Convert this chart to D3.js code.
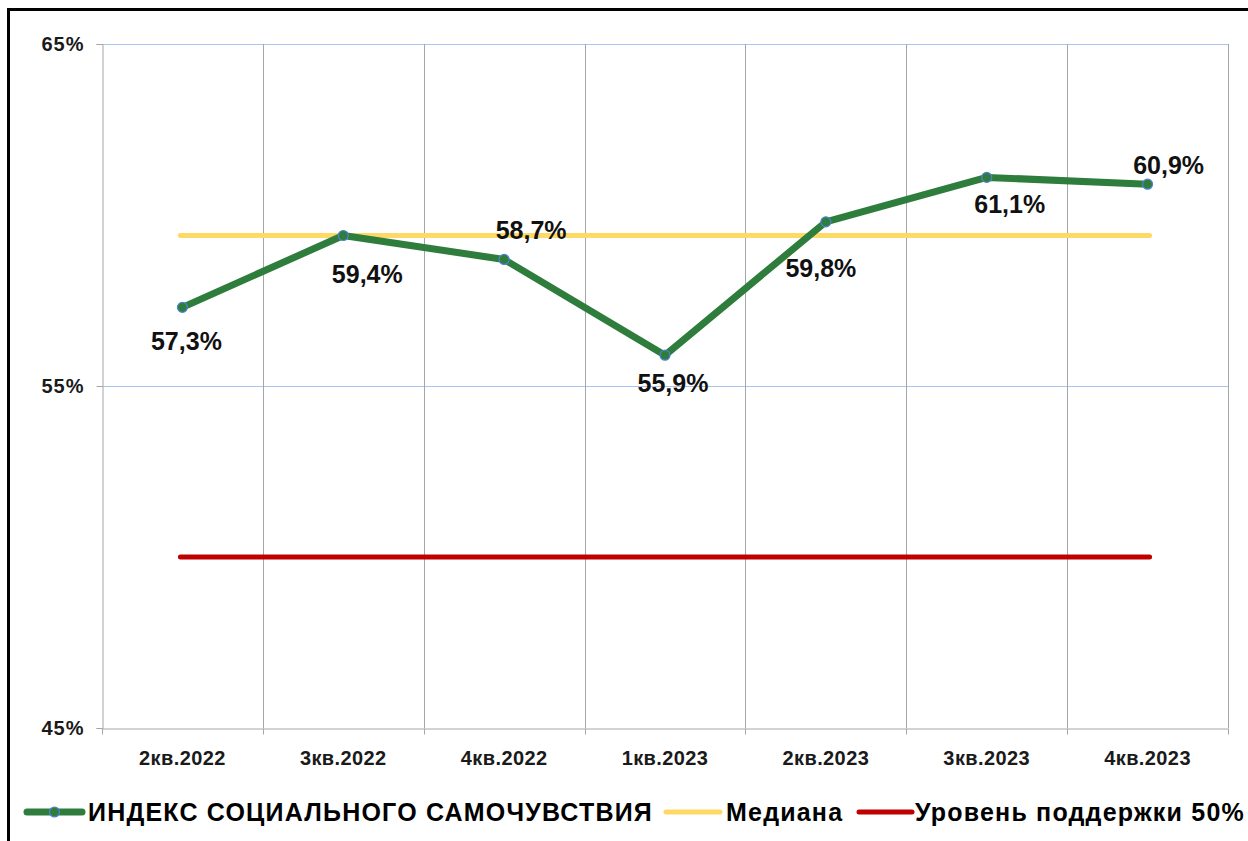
<!DOCTYPE html>
<html>
<head>
<meta charset="utf-8">
<script src="https://cdn.jsdelivr.net/npm/d3@7"></script>
<style>
  html, body { margin: 0; padding: 0; background: #fff; }
  svg { display: block; }
  text { font-family: "Liberation Sans", Arial, sans-serif; font-weight: bold; }
</style>
</head>
<body>
<svg id="chart" width="1248" height="841"></svg>
<script>
// ---- Data ----
const categories = ["2кв.2022", "3кв.2022", "4кв.2022", "1кв.2023", "2кв.2023", "3кв.2023", "4кв.2023"];
const indexValues = [57.3, 59.4, 58.7, 55.9, 59.8, 61.1, 60.9];
const medianValue = 59.4;
const supportLevel = 50;
const yTicks = [45, 55, 65];
const seriesNames = ["ИНДЕКС СОЦИАЛЬНОГО САМОЧУВСТВИЯ", "Медиана", "Уровень поддержки 50%"];

// ---- Layout / style ----
const W = 1248, H = 841;
const plot = { left: 102, right: 1228, top: 44, bottom: 728 };
const colors = { index: "#2e7d3c", median: "#ffd966", support: "#c00000", marker: "#4f81d6" };
// manual label offsets (dx, dy of baseline relative to point)
const labelOffsets = [[4, 43], [24, 47], [27, -20], [8, 37], [-5, 55], [23, 36], [21, -10]];

const svg = d3.select("#chart");

// outer frame
svg.append("rect").attr("x", 8.5).attr("y", 9.5).attr("width", 1260).attr("height", 860)
  .attr("fill", "none").attr("stroke", "#000").attr("stroke-width", 3);

const x = d3.scaleBand().domain(categories).range([plot.left, plot.right]);
const y = d3.scaleLinear().domain([45, 65]).range([plot.bottom, plot.top]);
const cx = c => x(c) + x.bandwidth() / 2;

// horizontal gridlines
svg.append("g").selectAll("line").data(yTicks.filter(t => t > 45)).join("line")
  .attr("x1", plot.left).attr("x2", plot.right)
  .attr("y1", d => Math.round(y(d)) + 0.5).attr("y2", d => Math.round(y(d)) + 0.5)
  .attr("stroke", "#a9c4f0").attr("stroke-width", 1);

// vertical gridlines at category boundaries
const bounds = categories.map(c => x(c)).concat([plot.right]);
svg.append("g").selectAll("line").data(bounds.slice(1)).join("line")
  .attr("x1", d => Math.round(d) + 0.5).attr("x2", d => Math.round(d) + 0.5)
  .attr("y1", plot.top).attr("y2", plot.bottom)
  .attr("stroke", "#a6a6a6").attr("stroke-width", 1);

// y axis
const yAxis = d3.axisLeft(y).tickValues(yTicks).tickSize(6).tickPadding(12).tickFormat(d => d + "%");
const gy = svg.append("g").attr("transform", `translate(${plot.left + 0.5},0)`).call(yAxis);
gy.select(".domain").attr("stroke", "#a6a6a6");
gy.selectAll(".tick line").attr("stroke", "#a6a6a6");
gy.selectAll(".tick text").attr("font-size", 20).attr("letter-spacing", 1).attr("fill", "#1a1a1a")
  .attr("font-family", "'Liberation Sans', Arial, sans-serif").attr("font-weight", "bold");

// x axis
const xAxis = d3.axisBottom(x).tickSize(0).tickPadding(22);
const gx = svg.append("g").attr("transform", `translate(0,${plot.bottom + 0.5})`).call(xAxis);
gx.select(".domain").attr("stroke", "#a6a6a6");
gx.selectAll(".tick text").attr("font-size", 20).attr("letter-spacing", 0.4).attr("fill", "#1a1a1a")
  .attr("font-family", "'Liberation Sans', Arial, sans-serif").attr("font-weight", "bold");
gx.append("g").selectAll("line").data(bounds).join("line")
  .attr("x1", d => Math.round(d) + 0.5).attr("x2", d => Math.round(d) + 0.5)
  .attr("y1", 0).attr("y2", 6).attr("stroke", "#a6a6a6");

// reference lines
const xStart = cx(categories[0]) - 2, xEnd = cx(categories[categories.length - 1]) + 2;
svg.append("line").attr("x1", xStart).attr("x2", xEnd)
  .attr("y1", y(supportLevel)).attr("y2", y(supportLevel))
  .attr("stroke", colors.support).attr("stroke-width", 5).attr("stroke-linecap", "round");
svg.append("line").attr("x1", xStart).attr("x2", xEnd)
  .attr("y1", y(medianValue)).attr("y2", y(medianValue))
  .attr("stroke", colors.median).attr("stroke-width", 5).attr("stroke-linecap", "round");

// index line
const line = d3.line().x((d, i) => cx(categories[i])).y(d => y(d));
svg.append("path").datum(indexValues).attr("d", line)
  .attr("fill", "none").attr("stroke", colors.index).attr("stroke-width", 7)
  .attr("stroke-linejoin", "round").attr("stroke-linecap", "round");
svg.append("g").selectAll("circle").data(indexValues).join("circle")
  .attr("cx", (d, i) => cx(categories[i])).attr("cy", d => y(d)).attr("r", 5)
  .attr("fill", colors.index).attr("stroke", colors.marker).attr("stroke-width", 1.2);

// data labels
svg.append("g").selectAll("text").data(indexValues).join("text")
  .attr("x", (d, i) => cx(categories[i]) + labelOffsets[i][0])
  .attr("y", (d, i) => y(d) + labelOffsets[i][1])
  .attr("text-anchor", "middle").attr("font-size", 25).attr("fill", "#111")
  .text(d => d.toFixed(1).replace(".", ",") + "%");

// legend
const legendY = 812;
const legendItems = [
  { name: seriesNames[0], color: colors.index, x1: 27, x2: 82, tx: 88, w: 7, marker: true },
  { name: seriesNames[1], color: colors.median, x1: 666, x2: 720, tx: 726, w: 5, marker: false },
  { name: seriesNames[2], color: colors.support, x1: 859, x2: 912, tx: 915, w: 5, marker: false }
];
const lg = svg.append("g").selectAll("g").data(legendItems).join("g");
lg.append("line").attr("x1", d => d.x1).attr("x2", d => d.x2).attr("y1", legendY).attr("y2", legendY)
  .attr("stroke", d => d.color).attr("stroke-width", d => d.w).attr("stroke-linecap", "round");
lg.filter(d => d.marker).append("circle").attr("cx", d => (d.x1 + d.x2) / 2).attr("cy", legendY).attr("r", 5)
  .attr("fill", colors.index).attr("stroke", colors.marker).attr("stroke-width", 1.2);
lg.append("text").attr("x", d => d.tx).attr("y", legendY + 9).attr("font-size", 25)
  .attr("letter-spacing", 1.2).attr("fill", "#000")
  .text(d => d.name);
</script>
</body>
</html>
